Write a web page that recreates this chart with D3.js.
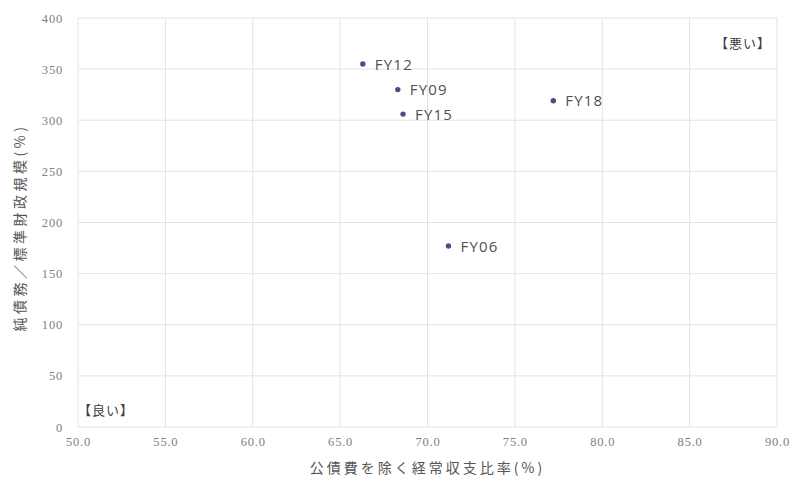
<!DOCTYPE html>
<html>
<head>
<meta charset="utf-8">
<script src="https://cdn.jsdelivr.net/npm/d3@7"></script>
<style>
  html, body { margin: 0; padding: 0; background: #fff; }
  svg { display: block; font-family: "Noto Sans CJK JP", "Noto Sans", sans-serif; }
</style>
</head>
<body>
<svg id="chart" width="790" height="484"></svg>
<script>
// Fiscal-year labels and their two ratios
const labels = ["FY06", "FY09", "FY12", "FY15", "FY18"];
const ordinaryRatio = [71.2, 68.3, 66.3, 68.6, 77.2];   // x: 公債費を除く経常収支比率(%)
const netDebtRatio = [177, 330, 355, 306, 319];          // y: 純債務／標準財政規模(%)

const xTicks = [50, 55, 60, 65, 70, 75, 80, 85, 90];
const yTicks = [0, 50, 100, 150, 200, 250, 300, 350, 400];

const svg = d3.select("#chart");
const plotLeft = 78, plotRight = 777, plotTop = 18, plotBottom = 427;

const x = d3.scaleLinear().domain([50, 90]).range([plotLeft, plotRight]);
const y = d3.scaleLinear().domain([0, 400]).range([plotBottom, plotTop]);

// Gridlines
const grid = svg.append("g");
grid.selectAll("line.v").data(xTicks).join("line")
  .attr("class", "v")
  .attr("x1", d => x(d)).attr("x2", d => x(d))
  .attr("y1", plotTop).attr("y2", plotBottom)
  .attr("stroke", "#e3e3e3").attr("stroke-width", 1);
grid.selectAll("line.h").data(yTicks).join("line")
  .attr("class", "h")
  .attr("x1", plotLeft).attr("x2", plotRight)
  .attr("y1", d => y(d)).attr("y2", d => y(d))
  .attr("stroke", "#e3e3e3").attr("stroke-width", 1);

// Axes (tick labels only)
const xAxis = svg.append("g")
  .attr("transform", `translate(0,${plotBottom})`)
  .call(d3.axisBottom(x).tickValues(xTicks).tickFormat(d3.format(".1f")).tickSize(0).tickPadding(10));
const yAxis = svg.append("g")
  .attr("transform", `translate(${plotLeft},0)`)
  .call(d3.axisLeft(y).tickValues(yTicks).tickSize(0).tickPadding(15));
[xAxis, yAxis].forEach(a => {
  a.select(".domain").remove();
  a.selectAll("text")
    .attr("fill", "#808080")
    .style("font-family", "'Liberation Serif', serif")
    .style("font-size", "12.5px")
    .style("letter-spacing", "0.8px");
});

// Axis titles
svg.append("text")
  .attr("x", (plotLeft + plotRight) / 2).attr("y", 473)
  .attr("text-anchor", "middle")
  .attr("fill", "#555")
  .style("font-size", "14px")
  .style("letter-spacing", "3px")
  .text("公債費を除く経常収支比率(%)");
svg.append("text")
  .attr("transform", `translate(25,${(plotTop + plotBottom) / 2 + 5}) rotate(-90)`)
  .attr("text-anchor", "middle")
  .attr("fill", "#555")
  .style("font-size", "14px")
  .style("letter-spacing", "3.5px")
  .text("純債務／標準財政規模(%)");

// Corner notes
svg.append("text")
  .attr("x", 771).attr("y", 48)
  .attr("text-anchor", "end")
  .attr("fill", "#404040")
  .style("font-size", "13px")
  .style("letter-spacing", "1px")
  .text("【悪い】");
svg.append("text")
  .attr("x", 78).attr("y", 415)
  .attr("fill", "#404040")
  .style("font-size", "13px")
  .style("letter-spacing", "1px")
  .text("【良い】");

// Points with labels
const pts = svg.append("g").selectAll("g").data(labels).join("g")
  .attr("transform", (d, i) => `translate(${x(ordinaryRatio[i])},${y(netDebtRatio[i])})`);
pts.append("circle")
  .attr("r", 2.7)
  .attr("fill", "#4b4c8c");
pts.append("text")
  .attr("x", 12).attr("y", 5.5)
  .attr("fill", "#505050")
  .style("font-family", "'Open Sans', 'Noto Sans', sans-serif")
  .style("font-size", "15px")
  .style("letter-spacing", "1.2px")
  .text(d => d);
</script>
</body>
</html>
